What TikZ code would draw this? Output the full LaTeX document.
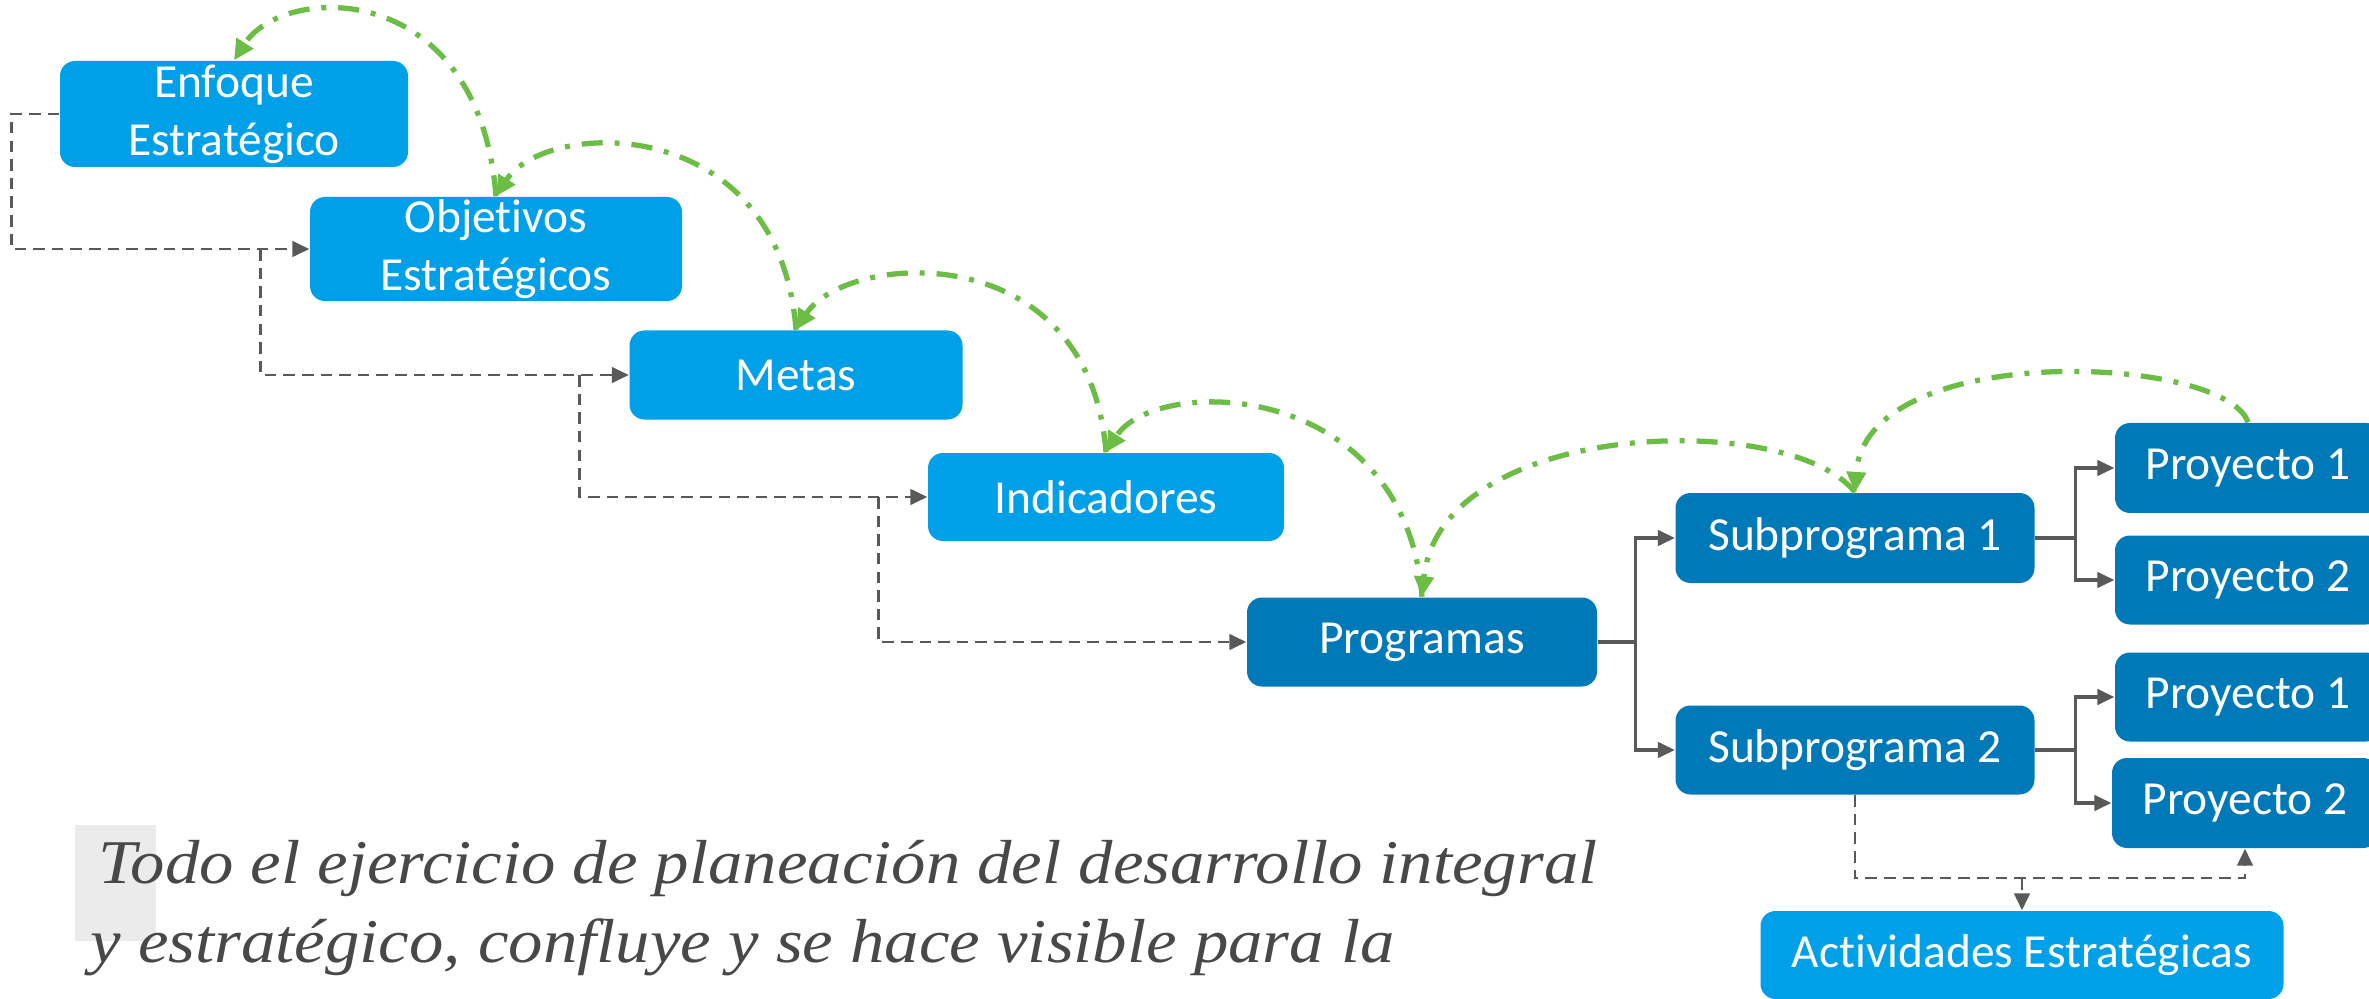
\documentclass[tikz,border=0pt]{standalone}
\usepackage{fontspec}
\setmainfont{Carlito}[Ligatures=NoCommon]
\newfontfamily\quotefont{Liberation Serif}
\usetikzlibrary{arrows.meta,calc}

\definecolor{lightblue}{RGB}{0,160,233}
\definecolor{darkblue}{RGB}{0,121,184}
\definecolor{arcgreen}{RGB}{108,189,69}
\definecolor{linegrey}{RGB}{89,89,89}
\definecolor{textgrey}{RGB}{72,72,72}
\definecolor{capgrey}{RGB}{235,235,235}

\tikzset{
  lightbox/.style={rectangle, rounded corners=0.15cm, fill=lightblue, text=white,
    align=center, inner sep=0pt, font=\fontsize{13.5}{16.5}\selectfont},
  darkbox/.style={lightbox, fill=darkblue},
  dashline/.style={linegrey, line width=0.8pt, dash pattern=on 3.3pt off 2pt,
    -{Triangle[length=4.8pt,width=4.4pt]}},
  solidline/.style={linegrey, line width=0.9pt, -{Triangle[length=4.8pt,width=4.4pt]}},
  greenarc/.style={arcgreen, line width=1.5pt,
    dash pattern=on 6pt off 3.4pt on 1.4pt off 3.4pt,
    -{Triangle[length=5.8pt,width=5.4pt]}},
  quote/.style={anchor=base west, text=textgrey, inner sep=0pt,
    font=\quotefont\itshape\fontsize{17.7}{22}\selectfont}
}

\begin{document}
\begin{tikzpicture}
    \useasboundingbox (0,0) rectangle (23.69,-9.99);
    \clip (0,0) rectangle (23.69,-9.99);

    % Staircase
    \node[lightbox, minimum width=3.48cm, minimum height=1.06cm] (enfoque) at (2.34,-1.14) {Enfoque\\Estratégico};
    \node[lightbox, minimum width=3.72cm, minimum height=1.04cm] (objetivos) at (4.96,-2.49) {Objetivos\\Estratégicos};
    \node[lightbox, minimum width=3.33cm, minimum height=0.89cm] (metas) at (7.96,-3.75) {Metas};
    \node[lightbox, minimum width=3.56cm, minimum height=0.88cm] (indicadores) at (11.06,-4.97) {Indicadores};
    \node[darkbox, minimum width=3.50cm, minimum height=0.89cm] (programas) at (14.22,-6.42) {Programas};

    % Subprogramas and proyectos
    \node[darkbox, minimum width=3.59cm, minimum height=0.90cm] (sub1) at (18.55,-5.38) {Subprograma 1};
    \node[darkbox, minimum width=3.59cm, minimum height=0.89cm] (sub2) at (18.55,-7.50) {Subprograma 2};
    \node[darkbox, minimum width=2.66cm, minimum height=0.90cm] (proy1a) at (22.48,-4.68) {Proyecto 1};
    \node[darkbox, minimum width=2.66cm, minimum height=0.89cm] (proy2a) at (22.48,-5.80) {Proyecto 2};
    \node[darkbox, minimum width=2.66cm, minimum height=0.89cm] (proy1b) at (22.48,-6.97) {Proyecto 1};
    \node[darkbox, minimum width=2.66cm, minimum height=0.90cm] (proy2b) at (22.45,-8.03) {Proyecto 2};
    \node[lightbox, minimum width=5.23cm, minimum height=0.88cm] (actividades) at (20.22,-9.55) {Actividades Estratégicas};

    % Dashed links
    \draw[dashline] (enfoque.west) -- ++(-0.48,0) |- (objetivos.west);
    \foreach \a/\b in {objetivos/metas, metas/indicadores, indicadores/programas}
        \draw[dashline] ($(\a.west)+(-0.49,0)$) |- (\b.west);
    \coordinate (junta) at (20.22,-8.78);
    \draw[dashline] (sub2.south) |- (junta) -| (proy2b.south);
    \draw[dashline] (junta) -- (actividades.north);

    % Solid links
    \draw[solidline] (programas.east) -- ++(0.38,0) |- (sub1.west);
    \draw[solidline] (programas.east) -- ++(0.38,0) |- (sub2.west);
    \foreach \s/\p in {sub1/proy1a, sub1/proy2a, sub2/proy1b, sub2/proy2b}
        \draw[solidline] (\s.east) -- ++(0.40,0) |- (\p.west);

    % Green arcs
    \foreach \r/\l in {objetivos/enfoque, metas/objetivos, indicadores/metas, programas/indicadores}
        \draw[greenarc] (\r.north) .. controls +(-0.17,2.18) and +(0.5,0.78) .. (\l.north);
    \draw[greenarc] (sub1.north) .. controls +(-0.65,0.83) and +(0.18,1.78) .. (programas.north);
    \draw[greenarc] (proy1a.north) .. controls +(-0.23,0.68) and +(0.10,1.53) .. (sub1.north);

    % Text below
    \fill[capgrey] (0.75,-8.25) rectangle (1.56,-9.41);
    \node[quote] (linea1) at (0.98,-8.83) {\scalebox{1.105}[1]{Todo el ejercicio de planeación del desarrollo integral}};
    \node[quote] (linea2) at (0.90,-9.62) {\scalebox{1.105}[1]{y estratégico, confluye y se hace visible para la}};
\end{tikzpicture}
\end{document}
